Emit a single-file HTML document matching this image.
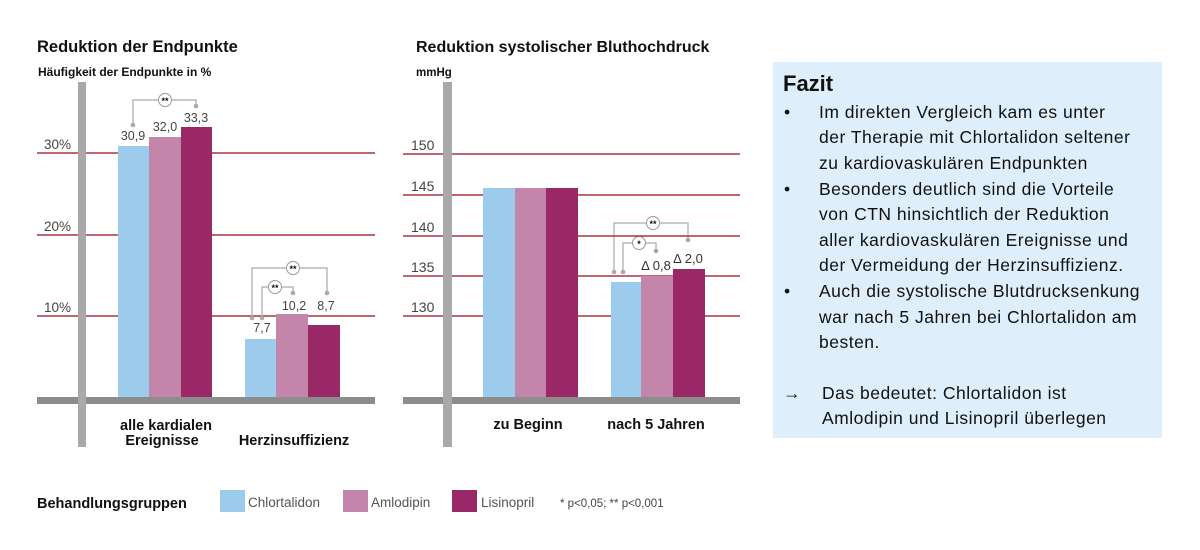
<!DOCTYPE html>
<html><head><meta charset="utf-8"><style>
html,body{margin:0;padding:0;background:#fff;}
svg{display:block;}
</style></head><body>
<svg width="1200" height="550" viewBox="0 0 1200 550" xmlns="http://www.w3.org/2000/svg" font-family="Liberation Sans, sans-serif">
<rect width="1200" height="550" fill="#fff"/>
<!-- LEFT CHART -->
<text x="37" y="52" font-size="16.5" font-weight="bold" fill="#111">Reduktion der Endpunkte</text>
<text x="38" y="76" font-size="12" font-weight="bold" fill="#111">Häufigkeit der Endpunkte in %</text>
<g stroke="#a83545" stroke-width="1.5">
<line x1="37" y1="153" x2="375" y2="153"/>
<line x1="37" y1="235" x2="375" y2="235"/>
<line x1="37" y1="316" x2="375" y2="316"/>
</g>
<g font-size="13.5" fill="#444">
<text x="44" y="149">30%</text><text x="44" y="231">20%</text><text x="44" y="312">10%</text>
</g>
<rect x="118" y="146" width="31" height="251" fill="#9ccbec"/>
<rect x="149" y="137" width="32" height="260" fill="#c385a9"/>
<rect x="181" y="127" width="31" height="270" fill="#9a2867"/>
<rect x="245" y="339" width="31" height="58" fill="#9ccbec"/>
<rect x="276" y="314" width="32" height="83" fill="#c385a9"/>
<rect x="308" y="325" width="32" height="72" fill="#9a2867"/>
<rect x="37" y="397" width="338" height="7" fill="#8c8c8c"/>
<rect x="78" y="82" width="8" height="365" fill="#a9a9a9"/>
<g font-size="12.5" fill="#444" text-anchor="middle">
<text x="133" y="140">30,9</text><text x="165" y="131">32,0</text><text x="196" y="122">33,3</text>
<text x="262" y="332">7,7</text><text x="294" y="310">10,2</text><text x="326" y="310">8,7</text>
</g>
<g stroke="#aaa" stroke-width="1.2" fill="none">
<polyline points="133,125 133,100 196,100 196,106"/>
<polyline points="252,318 252,268 327,268 327,293"/>
<polyline points="262,318 262,287 293,287 293,293"/>
<polyline points="623,272 623,243 656,243 656,251"/>
<polyline points="614,272 614,223 688,223 688,240"/>
</g>
<g fill="#aaa">
<circle cx="133" cy="125" r="2.3"/><circle cx="196" cy="106" r="2.3"/>
<circle cx="252" cy="318" r="2.3"/><circle cx="262" cy="318" r="2.3"/><circle cx="327" cy="293" r="2.3"/><circle cx="293" cy="293" r="2.3"/>
<circle cx="614" cy="272" r="2.3"/><circle cx="623" cy="272" r="2.3"/><circle cx="656" cy="251" r="2.3"/><circle cx="688" cy="240" r="2.3"/>
</g>
<g fill="#fff" stroke="#999" stroke-width="1">
<circle cx="165" cy="100" r="6.5"/><circle cx="293" cy="268" r="6.5"/><circle cx="275" cy="287" r="6.5"/>
<circle cx="653" cy="223" r="6.5"/><circle cx="639" cy="243" r="6.5"/>
</g>
<g font-size="9" font-weight="bold" fill="#111" text-anchor="middle">
<text x="165" y="104">**</text><text x="293" y="272">**</text><text x="275" y="291">**</text>
<text x="653" y="227">**</text><text x="639" y="247">*</text>
</g>
<g font-size="14.5" font-weight="bold" fill="#111" text-anchor="middle">
<text x="166" y="430">alle kardialen</text><text x="162" y="445">Ereignisse</text>
<text x="294" y="445">Herzinsuffizienz</text>
</g>
<!-- RIGHT CHART -->
<text x="416" y="52" font-size="16" font-weight="bold" fill="#111">Reduktion systolischer Bluthochdruck</text>
<text x="416" y="76" font-size="11.5" font-weight="bold" fill="#111">mmHg</text>
<g stroke="#a83545" stroke-width="1.5">
<line x1="403" y1="154" x2="740" y2="154"/>
<line x1="403" y1="195" x2="740" y2="195"/>
<line x1="403" y1="236" x2="740" y2="236"/>
<line x1="403" y1="276" x2="740" y2="276"/>
<line x1="403" y1="316" x2="740" y2="316"/>
</g>
<g font-size="14" fill="#444">
<text x="411" y="150">150</text><text x="411" y="191">145</text><text x="411" y="232">140</text><text x="411" y="272">135</text><text x="411" y="312">130</text>
</g>
<rect x="483" y="188" width="32" height="209" fill="#9ccbec"/>
<rect x="515" y="188" width="31" height="209" fill="#c385a9"/>
<rect x="546" y="188" width="32" height="209" fill="#9a2867"/>
<rect x="611" y="282" width="30" height="115" fill="#9ccbec"/>
<rect x="641" y="276" width="32" height="121" fill="#c385a9"/>
<rect x="673" y="269" width="32" height="128" fill="#9a2867"/>
<rect x="403" y="397" width="337" height="7" fill="#8c8c8c"/>
<rect x="443" y="82" width="9" height="365" fill="#a9a9a9"/>
<g font-size="13" fill="#333" text-anchor="middle">
<text x="656" y="270">Δ 0,8</text><text x="688" y="263">Δ 2,0</text>
</g>
<g font-size="14.5" font-weight="bold" fill="#111" text-anchor="middle">
<text x="528" y="429">zu Beginn</text><text x="656" y="429">nach 5 Jahren</text>
</g>
<!-- LEGEND -->
<text x="37" y="508" font-size="14.5" font-weight="bold" fill="#111">Behandlungsgruppen</text>
<rect x="220" y="490" width="25" height="22" fill="#9ccbec"/>
<text x="248" y="507" font-size="13.5" fill="#555">Chlortalidon</text>
<rect x="343" y="490" width="25" height="22" fill="#c385a9"/>
<text x="371" y="507" font-size="13.5" fill="#555">Amlodipin</text>
<rect x="452" y="490" width="25" height="22" fill="#9a2867"/>
<text x="481" y="507" font-size="13.5" fill="#555">Lisinopril</text>
<text x="560" y="507" font-size="11.5" fill="#444">* p&lt;0,05; ** p&lt;0,001</text>
<!-- FAZIT -->
<rect x="773" y="62" width="389" height="376" fill="#deeefa"/>
<text x="783" y="91" font-size="22" font-weight="bold" fill="#111">Fazit</text>
<g font-size="17.5" fill="#111" letter-spacing="0.5">
<text x="784" y="118">•</text>
<text x="819" y="118">Im direkten Vergleich kam es unter</text>
<text x="819" y="143">der Therapie mit Chlortalidon seltener</text>
<text x="819" y="169">zu kardiovaskulären Endpunkten</text>
<text x="784" y="195">•</text>
<text x="819" y="195">Besonders deutlich sind die Vorteile</text>
<text x="819" y="220">von CTN hinsichtlich der Reduktion</text>
<text x="819" y="246">aller kardiovaskulären Ereignisse und</text>
<text x="819" y="271">der Vermeidung der Herzinsuffizienz.</text>
<text x="784" y="297">•</text>
<text x="819" y="297">Auch die systolische Blutdrucksenkung</text>
<text x="819" y="323">war nach 5 Jahren bei Chlortalidon am</text>
<text x="819" y="348">besten.</text>
<text x="783" y="399">→</text>
<text x="822" y="399">Das bedeutet: Chlortalidon ist</text>
<text x="822" y="424">Amlodipin und Lisinopril überlegen</text>
</g>
</svg>
</body></html>
